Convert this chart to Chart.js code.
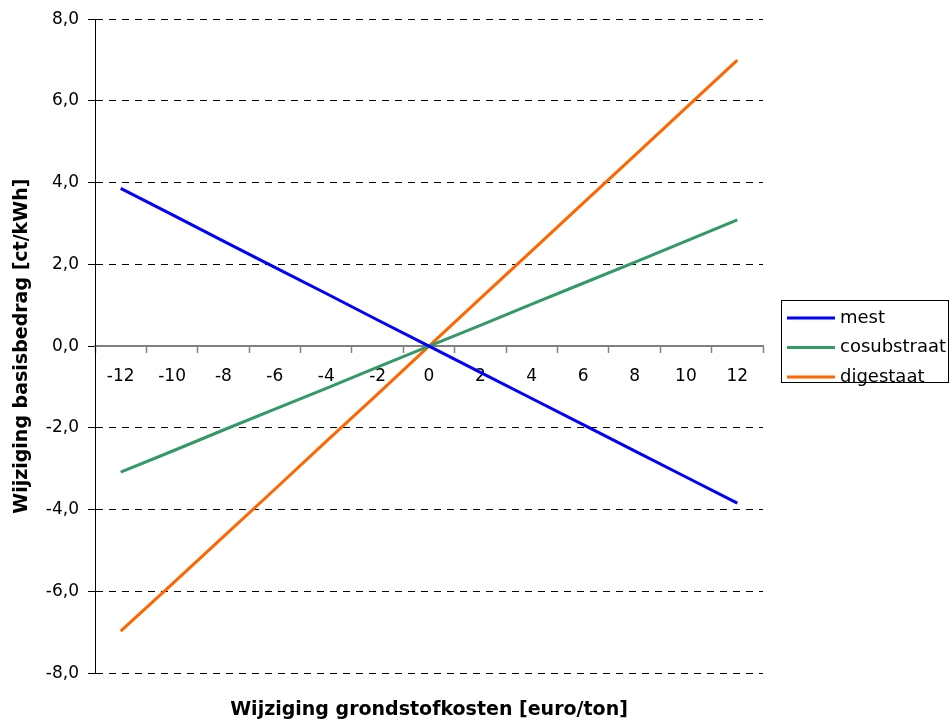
<!DOCTYPE html>
<html>
<head>
<meta charset="utf-8">
<script src="https://cdn.jsdelivr.net/npm/chart.js@4"></script>
<style>
  html, body { margin: 0; padding: 0; background: #fff; }
  #wrap { position: relative; width: 952px; height: 723px; }
</style>
</head>
<body>
<div id="wrap"><canvas id="chart" width="952" height="723"></canvas></div>
<script>
// Change in feedstock cost (euro/ton) and resulting change in base amount (ct/kWh)
const categories = ['-12', '-10', '-8', '-6', '-4', '-2', '0', '2', '4', '6', '8', '10', '12'];
const mest        = [3.86, 3.22, 2.57, 1.93, 1.29, 0.64, 0, -0.64, -1.28, -1.92, -2.56, -3.20, -3.84];
const cosubstraat = [-3.08, -2.57, -2.05, -1.54, -1.03, -0.51, 0, 0.51, 1.03, 1.54, 2.05, 2.57, 3.09];
const digestaat   = [-6.97, -5.82, -4.66, -3.50, -2.33, -1.17, 0, 1.17, 2.33, 3.50, 4.66, 5.83, 7.00];
const yTicks      = [-8, -6, -4, -2, 0, 2, 4, 6, 8];

const seriesNames  = ['mest', 'cosubstraat', 'digestaat'];
const seriesColors = ['#0000ff', '#339966', '#ff6600'];
const seriesData   = [mest, cosubstraat, digestaat];

const FONT = 'DejaVu Sans';

// Boxed legend to the right of the plot
const boxedLegend = {
  id: 'boxedLegend',
  afterDraw(chart) {
    const ctx = chart.ctx;
    const x0 = chart.chartArea.right + 18;
    const y0 = 300;
    const w = 167, h = 82, rowH = 29.5;
    ctx.save();
    ctx.fillStyle = '#fff';
    ctx.fillRect(x0, y0, w, h);
    ctx.strokeStyle = '#000';
    ctx.lineWidth = 1;
    ctx.strokeRect(x0 + 0.5, y0 + 0.5, w, h);
    ctx.font = '18px "' + FONT + '"';
    ctx.textBaseline = 'middle';
    ctx.fillStyle = '#000';
    chart.data.datasets.forEach((ds, i) => {
      const yy = y0 + 18 + i * rowH;
      ctx.strokeStyle = ds.borderColor;
      ctx.lineWidth = 3;
      ctx.beginPath();
      ctx.moveTo(x0 + 6, yy);
      ctx.lineTo(x0 + 54, yy);
      ctx.stroke();
      ctx.fillText(ds.label, x0 + 59, yy);
    });
    ctx.restore();
  }
};

new Chart(document.getElementById('chart'), {
  type: 'line',
  data: {
    labels: categories,
    datasets: seriesNames.map((name, i) => ({
      label: name,
      data: seriesData[i],
      borderColor: seriesColors[i],
      backgroundColor: seriesColors[i],
      borderWidth: 3,
      pointRadius: 0,
      tension: 0,
      fill: false
    }))
  },
  options: {
    responsive: false,
    animation: false,
    layout: { padding: { top: 9, right: 189, left: 0, bottom: 0 } },
    plugins: {
      legend: { display: false },
      tooltip: { enabled: false },
      title: {
        display: true,
        position: 'bottom',
        fullSize: false,
        text: 'Wijziging grondstofkosten [euro/ton]',
        color: '#000',
        font: { family: FONT, size: 19, weight: 'bold' },
        padding: { top: 25, bottom: 2 }
      }
    },
    scales: {
      x: {
        type: 'category',
        offset: true,
        position: { y: 0 },
        grid: {
          offset: true,
          drawOnChartArea: false,
          drawTicks: true,
          tickLength: 6,
          tickColor: '#808080',
          tickWidth: 1.5
        },
        border: { display: true, color: '#808080', width: 2 },
        ticks: {
          color: '#000',
          font: { family: FONT, size: 17 },
          padding: 14,
          maxRotation: 0,
          autoSkip: false
        }
      },
      y: {
        min: -8,
        max: 8,
        afterBuildTicks(scale) {
          scale.ticks = yTicks.map(v => ({ value: v }));
        },
        afterFit(scale) { scale.width = 95; },
        grid: {
          color: ctx => (ctx.tick && ctx.tick.value === 0) ? 'rgba(0,0,0,0)' : '#000',
          lineWidth: 1,
          drawTicks: true,
          tickLength: 7,
          tickColor: '#000'
        },
        border: { display: true, color: '#000', width: 1, dash: [7, 6] },
        ticks: {
          color: '#000',
          font: { family: FONT, size: 17 },
          padding: 9,
          callback: v => v.toFixed(1).replace('.', ',')
        },
        title: {
          display: true,
          text: 'Wijziging basisbedrag [ct/kWh]',
          color: '#000',
          font: { family: FONT, size: 19, weight: 'bold' },
          padding: { top: 11, bottom: 0 }
        }
      }
    }
  },
  plugins: [boxedLegend]
});
</script>
</body>
</html>
